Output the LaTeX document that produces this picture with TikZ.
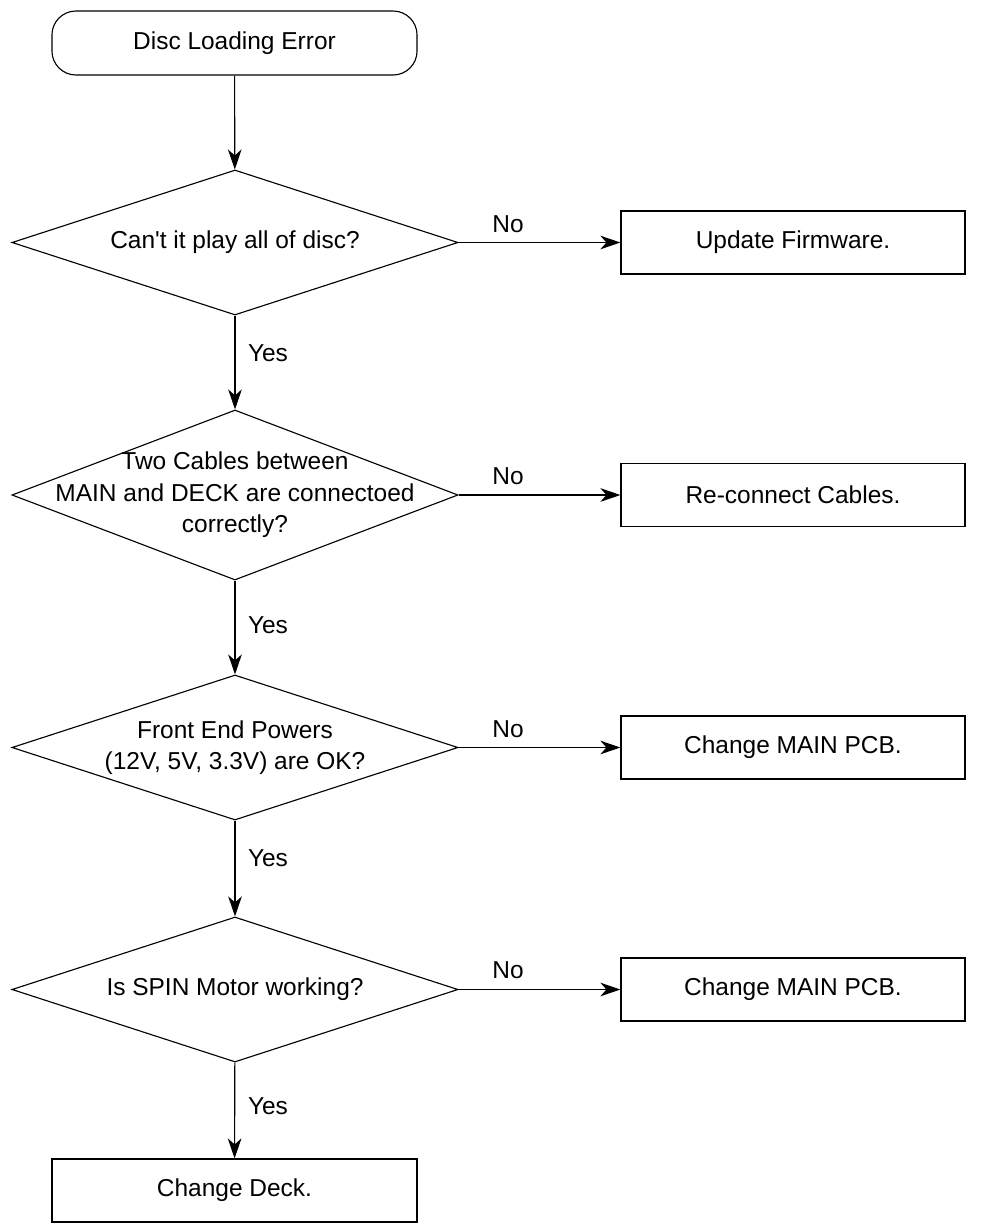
\documentclass[tikz,border=0pt]{standalone}
\usepackage{fontspec}
\setmainfont{Liberation Sans}
\usepackage{tikz}
\usetikzlibrary{shapes.geometric,arrows.meta}

\begin{document}
\begin{tikzpicture}[x=0.025cm, y=-0.025cm, line width=0.8pt,
        >={Stealth[length=5mm, width=3.4mm, inset=1.5mm]},
        every node/.style={font=\fontsize{17.4}{22.5}\selectfont},
        decision/.style={draw, diamond, minimum width=11.15cm, minimum height=3.625cm, inner sep=0pt},
        action/.style={draw, rectangle, minimum width=8.6cm, minimum height=1.575cm},
        terminal/.style={draw, rectangle, rounded corners=0.6cm, minimum width=9.125cm, minimum height=1.6cm}]
        \useasboundingbox (0,0) rectangle (994,1231);
        % main column
        \node[terminal] (start) at (234.5,43) {Disc Loading Error};
        \node[decision] (q1) at (235,242.5) {};
        \node (q1txt) at (q1) {Can\textquotesingle t it play all of disc?};
        \node[decision, minimum height=4.25cm] (q2) at (235,495) {};
        \node[align=center] (q2txt) at (q2) {Two Cables between\\MAIN and DECK are connectoed\\correctly?};
        \node[decision] (q3) at (235,747.5) {};
        \node[align=center] (q3txt) at (q3) {Front End Powers\\(12V, 5V, 3.3V) are OK?};
        \node[decision] (q4) at (235,989.5) {};
        \node (q4txt) at (q4) {Is SPIN Motor working?};
        \node[action, minimum width=9.125cm] (deck) at (234.5,1190.5) {Change Deck.};
        % right column
        \node[action] (fw) at (793,242.5) {Update Firmware.};
        \node[action] (cable) at (793,495) {Re-connect Cables.};
        \node[action] (pcb1) at (793,747.5) {Change MAIN PCB.};
        \node[action] (pcb2) at (793,989.5) {Change MAIN PCB.};
        % labels
        \node (yes1) at (268,353) {Yes};
        \node (yes2) at (268,625) {Yes};
        \node (yes3) at (268,858) {Yes};
        \node (yes4) at (268,1106) {Yes};
        \node (no1) at (508,224) {No};
        \node (no2) at (508,476) {No};
        \node (no3) at (508,729) {No};
        \node (no4) at (508,970) {No};
        % arrows
        \draw[->] (start) -- (q1);
        \draw[->] (q1) -- (q2);
        \draw[->] (q2) -- (q3);
        \draw[->] (q3) -- (q4);
        \draw[->] (q4) -- (deck);
        \draw[->] (q1) -- (fw);
        \draw[->] (q2) -- (cable);
        \draw[->] (q3) -- (pcb1);
        \draw[->] (q4) -- (pcb2);
    \end{tikzpicture}
\end{document}
